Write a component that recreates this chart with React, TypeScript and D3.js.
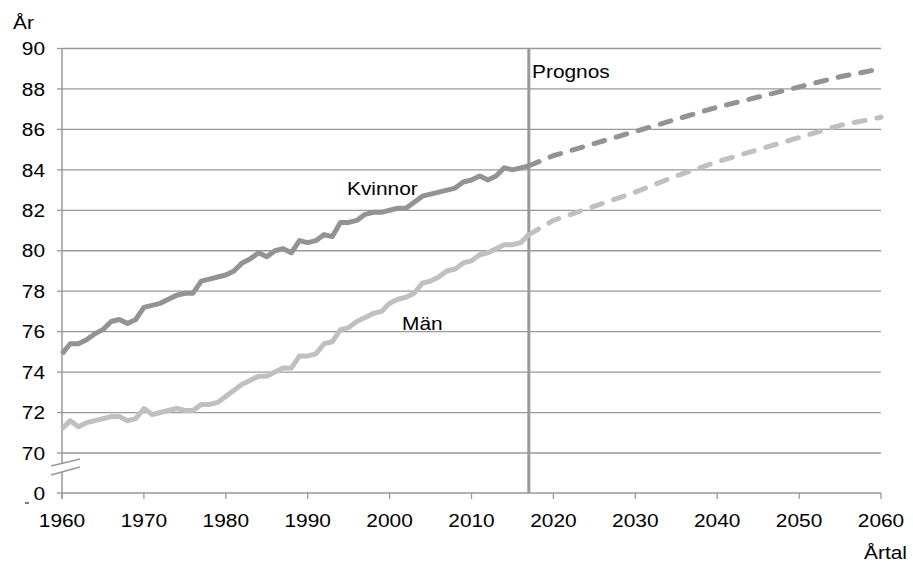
import React from "react";
import * as d3 from "d3";

const years: number[] = d3.range(1960, 2018);
const kvinnor: number[] = [
  74.9, 75.4, 75.4, 75.6, 75.9, 76.1, 76.5, 76.6, 76.4, 76.6,
  77.2, 77.3, 77.4, 77.6, 77.8, 77.9, 77.9, 78.5, 78.6, 78.7,
  78.8, 79.0, 79.4, 79.6, 79.9, 79.7, 80.0, 80.1, 79.9, 80.5,
  80.4, 80.5, 80.8, 80.7, 81.4, 81.4, 81.5, 81.8, 81.9, 81.9,
  82.0, 82.1, 82.1, 82.4, 82.7, 82.8, 82.9, 83.0, 83.1, 83.4,
  83.5, 83.7, 83.5, 83.7, 84.1, 84.0, 84.1, 84.2,
];
const man: number[] = [
  71.2, 71.6, 71.3, 71.5, 71.6, 71.7, 71.8, 71.8, 71.6, 71.7,
  72.2, 71.9, 72.0, 72.1, 72.2, 72.1, 72.1, 72.4, 72.4, 72.5,
  72.8, 73.1, 73.4, 73.6, 73.8, 73.8, 74.0, 74.2, 74.2, 74.8,
  74.8, 74.9, 75.4, 75.5, 76.1, 76.2, 76.5, 76.7, 76.9, 77.0,
  77.4, 77.6, 77.7, 77.9, 78.4, 78.5, 78.7, 79.0, 79.1, 79.4,
  79.5, 79.8, 79.9, 80.1, 80.3, 80.3, 80.4, 80.8,
];
const prognosYears: number[] = [2017, 2020, 2025, 2030, 2035, 2040, 2045, 2050, 2055, 2060];
const kvinnorPrognos: number[] = [84.2, 84.7, 85.3, 85.9, 86.5, 87.1, 87.6, 88.1, 88.6, 89.0];
const manPrognos: number[] = [80.8, 81.5, 82.2, 82.9, 83.7, 84.4, 85.0, 85.6, 86.2, 86.6];
const yTicks: number[] = [0, 70, 72, 74, 76, 78, 80, 82, 84, 86, 88, 90];
const xTicks: number[] = d3.range(1960, 2061, 10);
const prognosStart = 2017;

const W = 913;
const H = 565;
const left = 62;
const right = 881;
const font = "'Liberation Sans', Arial, sans-serif";
const gridColor = "#999999";
const kColor = "#939393";
const mColor = "#c0c0c0";
const FS = 18.5;
const SX = 1.13;

function T(props: { x: number; y: number; anchor?: string; dy?: string; children: React.ReactNode }) {
  const { x, y, anchor, dy, children } = props;
  return (
    <text
      transform={`translate(${x},${y}) scale(${SX},1)`}
      textAnchor={anchor || "start"}
      dy={dy}
      fontSize={FS}
      fill="#000"
    >
      {children}
    </text>
  );
}

export default function App() {
  const x = d3.scaleLinear().domain([1960, 2060]).range([left, right]);
  const y = d3.scaleLinear().domain([0, 70, 90]).range([493, 453, 48.5]);

  const line = d3
    .line<[number, number]>()
    .x((d) => x(d[0]))
    .y((d) => y(d[1]))
    .curve(d3.curveLinear);

  const kData: [number, number][] = years.map((yr, i) => [yr, kvinnor[i]]);
  const mData: [number, number][] = years.map((yr, i) => [yr, man[i]]);
  const kP: [number, number][] = prognosYears.map((yr, i) => [yr, kvinnorPrognos[i]]);
  const mP: [number, number][] = prognosYears.map((yr, i) => [yr, manPrognos[i]]);

  const y0 = y(0);
  const bx1 = 51, bx2 = 80;

  return (
    <svg
      width={W}
      height={H}
      style={{ position: "absolute", left: 0, top: 0, background: "#fff" }}
      fontFamily={font}
    >
      <rect x={0} y={0} width={W} height={H} fill="#fff" />
      {yTicks.map((t) => (
        <g key={t}>
          <line x1={left} x2={right} y1={y(t)} y2={y(t)} stroke={gridColor} strokeWidth={1.3} />
          <line x1={left - 5} x2={left} y1={y(t)} y2={y(t)} stroke={gridColor} strokeWidth={1.3} />
          <T x={45} y={y(t)} dy="0.36em" anchor="end">{t}</T>
        </g>
      ))}
      <line x1={left} x2={left} y1={y(90)} y2={y0 + 6} stroke={gridColor} strokeWidth={1.5} />
      {xTicks.map((t) => (
        <g key={t}>
          <line x1={x(t)} x2={x(t)} y1={y0} y2={y0 + 6} stroke={gridColor} strokeWidth={1.3} />
          <T x={x(t)} y={527} anchor="middle">{t}</T>
        </g>
      ))}
      <polygon points={`${bx1},466 ${bx2},459 ${bx2},467 ${bx1},475`} fill="#fff" />
      <line x1={bx1} y1={466} x2={bx2} y2={459} stroke={gridColor} strokeWidth={1.5} />
      <line x1={bx1} y1={475} x2={bx2} y2={467} stroke={gridColor} strokeWidth={1.5} />
      <line x1={25} x2={29} y1={503} y2={503} stroke="#000" strokeWidth={1} />
      <line
        x1={x(prognosStart)}
        x2={x(prognosStart)}
        y1={y(90)}
        y2={y0}
        stroke={gridColor}
        strokeWidth={3}
      />
      <path d={line(mData) || ""} fill="none" stroke={mColor} strokeWidth={5} strokeLinejoin="round" />
      <path d={line(kData) || ""} fill="none" stroke={kColor} strokeWidth={5} strokeLinejoin="round" />
      <path
        d={line(mP) || ""}
        fill="none"
        stroke={mColor}
        strokeWidth={5}
        strokeDasharray="11 12"
        strokeLinecap="round"
      />
      <path
        d={line(kP) || ""}
        fill="none"
        stroke={kColor}
        strokeWidth={5}
        strokeDasharray="11 12"
        strokeLinecap="round"
      />
      <T x={13} y={29}>År</T>
      <T x={907} y={559} anchor="end">Årtal</T>
      <T x={347} y={195}>Kvinnor</T>
      <T x={402} y={330}>Män</T>
      <T x={532} y={78}>Prognos</T>
    </svg>
  );
}
